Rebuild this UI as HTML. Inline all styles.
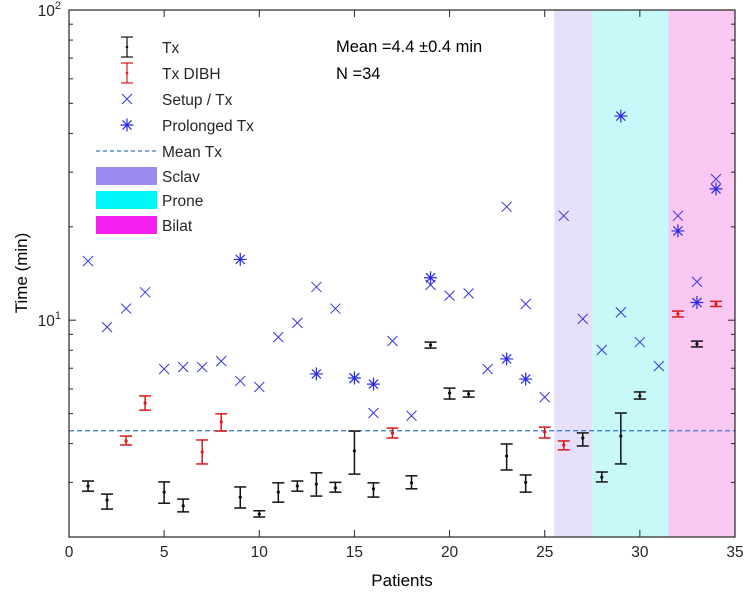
<!DOCTYPE html>
<html><head><meta charset="utf-8"><style>
html,body{margin:0;padding:0;background:#fff;}
svg{display:block;font-family:"Liberation Sans",Arial,sans-serif;}
</style></head><body>
<svg id="chart" width="747" height="599" viewBox="0 0 747 599" xmlns="http://www.w3.org/2000/svg">
<g id="bands"></g>
<g id="meanline"></g>
<g id="marks"></g>
<g id="axes"></g>
<g id="legend"></g>
<text x="336" y="52" font-size="16.5">Mean =4.4 ±0.4 min</text>
<text x="336" y="79" font-size="16.5">N =34</text>
<text x="402" y="586" font-size="17" text-anchor="middle">Patients</text>
<text x="0" y="0" font-size="17" text-anchor="middle" transform="translate(27,273) rotate(-90)">Time (min)</text>
</svg>
<script>
// ---- data ----
const txPatients = [1,2,5,6,9,10,11,12,13,14,15,16,18,19,20,21,23,24,27,28,29,30,33];
const txValues   = [2.92,2.63,2.79,2.52,2.69,2.37,2.79,2.92,2.96,2.88,3.79,2.86,2.99,8.32,5.82,5.78,3.65,3.0,4.17,3.12,4.23,5.7,8.38];
const txHigh     = [3.03,2.75,3.01,2.65,2.9,2.43,2.99,3.03,3.22,3.0,4.39,2.99,3.15,8.5,6.04,5.91,3.99,3.17,4.33,3.24,5.02,5.87,8.56];
const txLow      = [2.81,2.46,2.57,2.41,2.48,2.32,2.59,2.81,2.71,2.79,3.19,2.69,2.86,8.13,5.57,5.65,3.29,2.79,3.93,3.01,3.44,5.57,8.2];
const dibhPatients = [3,4,7,8,17,25,26,32,34];
const dibhValues   = [4.08,5.41,3.76,4.7,4.33,4.36,3.96,10.47,11.28];
const dibhHigh     = [4.23,5.7,4.11,4.99,4.49,4.52,4.08,10.7,11.5];
const dibhLow      = [3.96,5.13,3.44,4.39,4.17,4.17,3.82,10.24,11.07];
const setupPatients = [1,2,3,4,5,6,7,8,9,10,11,12,13,14,15,16,17,18,19,20,21,22,23,24,25,26,27,28,29,30,31,32,33,34];
const setupValues   = [15.5,9.5,10.9,12.3,6.96,7.06,7.06,7.38,6.37,6.09,8.82,9.8,12.8,10.9,6.5,5.02,8.57,4.92,13.0,12.0,12.2,6.96,23.2,11.28,5.65,21.7,10.1,8.02,10.6,8.5,7.11,21.7,13.3,28.5];
const prolongedPatients = [9,13,15,16,19,23,24,29,32,33,34];
const prolongedValues   = [15.7,6.71,6.51,6.22,13.7,7.5,6.46,45.5,19.4,11.4,26.5];
const meanTx = 4.4;
const bandNames  = ["Sclav","Prone","Bilat"];
const bandStarts = [25.5,27.5,31.5];
const bandEnds   = [27.5,31.5,35];
const xTicks = [0,5,10,15,20,25,30,35];

// ---- axes ----
const L=69,R=735,T=10,B=537;
const xMin=0,xMax=35,yMin=2,yMax=100;
function X(v){return L+(v-xMin)/(xMax-xMin)*(R-L);}
function Y(v){return B-(Math.log10(v)-Math.log10(yMin))/(Math.log10(yMax)-Math.log10(yMin))*(B-T);}
const NS="http://www.w3.org/2000/svg";
function mk(tag,attrs,parent){const e=document.createElementNS(NS,tag);for(const k in attrs)e.setAttribute(k,attrs[k]);parent.appendChild(e);return e;}

const bandColors=["#e6e0fb","#c8f8f8","#fbc8f3"];
const bands=document.getElementById('bands');
bandNames.forEach((n,i)=>{
  const r=mk('rect',{x:X(bandStarts[i]),y:T,width:X(bandEnds[i])-X(bandStarts[i]),height:B-T,fill:bandColors[i]},bands);
  
  
});
const ml=mk('line',{x1:L,x2:R,y1:Y(meanTx),y2:Y(meanTx),stroke:"#3a78c8","stroke-width":1.2,"stroke-dasharray":"5,3"},document.getElementById('meanline'));



const marks=document.getElementById('marks');
function errbar(p,v,lo,hi,col,name){
  const g=mk('g',{},marks);
  
  
  const x=X(p);
  mk('line',{x1:x,x2:x,y1:Y(hi),y2:Y(lo),stroke:col,"stroke-width":1.5},g);
  mk('line',{x1:x-6,x2:x+6,y1:Y(hi),y2:Y(hi),stroke:col,"stroke-width":1.5},g);
  mk('line',{x1:x-6,x2:x+6,y1:Y(lo),y2:Y(lo),stroke:col,"stroke-width":1.5},g);
  mk('circle',{cx:x,cy:Y(v),r:1.6,fill:col},g);
}
function cross(x,y,s,col,parent){
  mk('path',{d:`M${x-s},${y-s}L${x+s},${y+s}M${x-s},${y+s}L${x+s},${y-s}`,stroke:col,"stroke-width":1,fill:"none"},parent);
}
function star(x,y,s,col,parent){
  mk('path',{d:`M${x-s},${y}L${x+s},${y}M${x},${y-s}L${x},${y+s}M${x-s*0.7},${y-s*0.7}L${x+s*0.7},${y+s*0.7}M${x-s*0.7},${y+s*0.7}L${x+s*0.7},${y-s*0.7}`,stroke:col,"stroke-width":1.2,fill:"none"},parent);
}
setupPatients.forEach((p,i)=>{
  const g=mk('g',{},marks);
  
  
  cross(X(p),Y(setupValues[i]),5,"#3838e0",g);
});
prolongedPatients.forEach((p,i)=>{
  const g=mk('g',{},marks);
  
  
  star(X(p),Y(prolongedValues[i]),6.5,"#2a2ae8",g);
});
txPatients.forEach((p,i)=>errbar(p,txValues[i],txLow[i],txHigh[i],"#111","tx-errorbar-"+p));
dibhPatients.forEach((p,i)=>errbar(p,dibhValues[i],dibhLow[i],dibhHigh[i],"#e01818","dibh-errorbar-"+p));

// axes frame and ticks
const ax=document.getElementById('axes');
const fr=mk('rect',{x:L,y:T,width:R-L,height:B-T,fill:"none",stroke:"#262626","stroke-width":1.2},ax);


xTicks.forEach(t=>{
  const x=X(t);
  mk('line',{x1:x,x2:x,y1:B,y2:B-7,stroke:"#262626"},ax);
  mk('line',{x1:x,x2:x,y1:T,y2:T+7,stroke:"#262626"},ax);
  const tx=mk('text',{x:x,y:B+20,"font-size":15.5,"text-anchor":"middle",fill:"#262626"},ax);
  tx.textContent=t;
  
  
});
for(let d=1;d<=2;d++)for(let m=1;m<=9;m++){
  const v=m*Math.pow(10,d-1)*(d===1?1:1);
  const val=m*Math.pow(10,d-1);
  if(val<yMin||val>yMax)continue;
  const y=Y(val),len=(m===1)?7:4;
  mk('line',{x1:L,x2:L+len,y1:y,y2:y,stroke:"#262626"},ax);
  mk('line',{x1:R,x2:R-len,y1:y,y2:y,stroke:"#262626"},ax);
}
[[10,"1"],[100,"2"]].forEach(([v,e])=>{
  const t=mk('text',{x:L-8,y:Y(v)+6,"font-size":15.5,"text-anchor":"end",fill:"#262626"},ax);
  
  
  t.textContent="10";
  const s=mk('tspan',{dy:-7,"font-size":11},t);
  s.textContent=e;
});

// legend
const lg=document.getElementById('legend');
const rows=[["Tx",47],["Tx DIBH",73],["Setup / Tx",99],["Prolonged Tx",125],["Mean Tx",151],["Sclav",176],["Prone",200],["Bilat",225]];
rows.forEach(([lab,y],i)=>{
  const g=mk('g',{},lg);
  
  
  const cx=127;
  if(i===0||i===1){
    const c=i===0?"#111":"#e01818";
    mk('line',{x1:cx,x2:cx,y1:y-10,y2:y+10,stroke:c,"stroke-width":1.2},g);
    mk('line',{x1:cx-6,x2:cx+6,y1:y-10,y2:y-10,stroke:c,"stroke-width":1.2},g);
    mk('line',{x1:cx-6,x2:cx+6,y1:y+10,y2:y+10,stroke:c,"stroke-width":1.2},g);
    mk('circle',{cx:cx,cy:y,r:1.3,fill:c},g);
  } else if(i===2){ cross(cx,y,5,"#3838e0",g); }
  else if(i===3){ star(cx,y,6.5,"#2a2ae8",g); }
  else if(i===4){ mk('line',{x1:96,x2:157,y1:y,y2:y,stroke:"#3a78c8","stroke-width":1.2,"stroke-dasharray":"4,3"},g); }
  else { const cols=["#9b8cf0","#00f8f8","#f820f0"]; mk('rect',{x:96,y:y-9,width:61,height:18,fill:cols[i-5]},g); }
  const t=mk('text',{x:162,y:y+6,"font-size":15.5,fill:"#262626"},g);
  t.textContent=lab;
});
</script>
</body></html>
